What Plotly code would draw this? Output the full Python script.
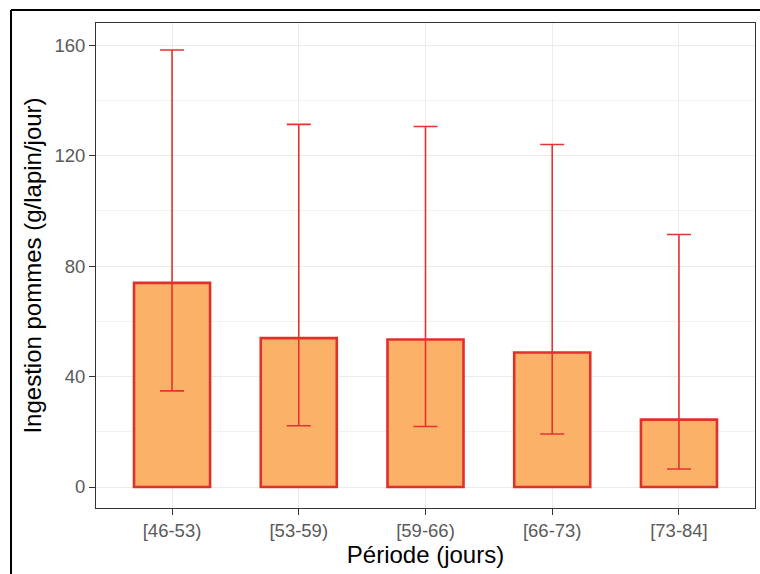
import plotly.graph_objects as go

periods = ["[46-53)", "[53-59)", "[59-66)", "[66-73)", "[73-84]"]
mean_values = [73.9, 53.9, 53.4, 48.7, 24.4]
lower_values = [34.8, 22.2, 21.9, 19.2, 6.5]
upper_values = [158.2, 131.3, 130.5, 124.0, 91.4]
y_ticks = [0, 40, 80, 120, 160]

err_plus = [u - m for u, m in zip(upper_values, mean_values)]
err_minus = [m - l for m, l in zip(mean_values, lower_values)]

fig = go.Figure()
fig.add_trace(go.Bar(
    x=periods, y=mean_values, width=0.6,
    marker=dict(color="#FCB169", line=dict(color="#E0302A", width=2.6)),
    error_y=dict(type="data", symmetric=False, array=err_plus, arrayminus=err_minus,
                 color="#E3342F", thickness=1.6, width=12),
    showlegend=False,
))

W, H = 760, 574
L, R, T, B = 96, 5, 23, 66
pw, ph = W - L - R, H - T - B

def px(x):
    return (x - L) / pw

def py(y):
    return (H - B - y) / ph

fig.update_layout(
    width=W, height=H,
    margin=dict(l=L, r=R, t=T, b=B),
    paper_bgcolor="white", plot_bgcolor="white",
    font=dict(family="Liberation Sans, Arial, sans-serif", color="#4D4D4D"),
    xaxis=dict(
        range=[-0.6, 4.6], showgrid=True, gridcolor="#EBEBEB", gridwidth=1.2,
        showline=True, linecolor="#333333", linewidth=1, mirror=True,
        ticks="outside", ticklen=6, tickcolor="#333333", tickwidth=1,
        tickfont=dict(size=18.5, color="#5A5A5A"),
        title=dict(text="Période (jours)", font=dict(size=24, color="black"), standoff=0),
        zeroline=False,
    ),
    yaxis=dict(
        range=[-7.6, 168], tickvals=y_ticks,
        showgrid=True, gridcolor="#EBEBEB", gridwidth=1.2,
        minor=dict(dtick=20, showgrid=True, gridcolor="#F2F2F2", gridwidth=0.8, ticks=""),
        showline=True, linecolor="#333333", linewidth=1, mirror=True,
        ticks="outside", ticklen=6, tickcolor="#333333", tickwidth=1,
        tickfont=dict(size=18.5, color="#5A5A5A"),
        title=dict(text="Ingestion pommes (g/lapin/jour)", font=dict(size=24, color="black"), standoff=6),
        zeroline=False,
    ),
    shapes=[
        dict(type="line", xref="paper", yref="paper", x0=px(11), x1=px(760), y0=py(10), y1=py(10),
             line=dict(color="black", width=2)),
        dict(type="line", xref="paper", yref="paper", x0=px(11), x1=px(11), y0=py(10), y1=py(574),
             line=dict(color="black", width=2)),
    ],
)

fig.write_html("out.html", config={"displayModeBar": False},
               post_script="document.body.style.margin='0';document.body.style.padding='0';")
